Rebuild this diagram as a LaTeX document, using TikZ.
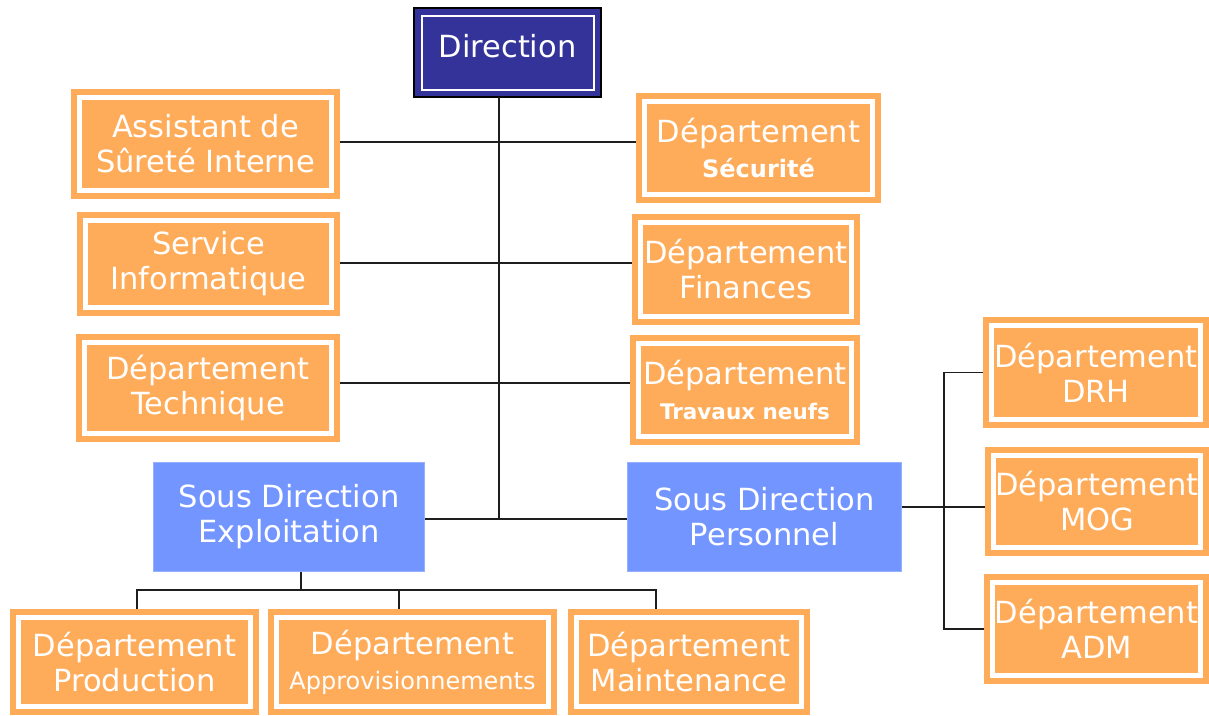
\documentclass[tikz,border=0pt]{standalone}
\usepackage{fontspec}
\setmainfont{DejaVu Sans}
\usetikzlibrary{calc}
\definecolor{orng}{RGB}{255,172,90}
\definecolor{lblue}{RGB}{115,149,255}
\definecolor{navy}{RGB}{51,51,153}
\definecolor{conncol}{RGB}{30,30,30}
\newcommand\mainsz{\fontsize{30.5}{35}\selectfont}
\newcommand\subbf{\fontsize{24}{28}\selectfont\bfseries}
\newcommand\subtr{\fontsize{21.5}{26}\selectfont\bfseries}
\newcommand\subap{\fontsize{24}{28}\selectfont}
\tikzset{
  obox/.style 2 args={draw=orng, fill=orng, double=white, double distance=5pt,
    line width=6pt, minimum width=#1pt-17pt, minimum height=#2pt-17pt,
    outer sep=8.5pt, inner sep=0pt, align=center, text=white, font=\mainsz},
  sbox/.style 2 args={draw=lblue!75!white, fill=lblue, line width=1pt,
    minimum width=#1pt-1pt, minimum height=#2pt-1pt, outer sep=0.5pt,
    inner sep=0pt, align=center, text=white, font=\mainsz},
  dbox/.style 2 args={draw=navy, fill=navy, double=white, double distance=2pt,
    line width=6.5pt, minimum width=#1pt-15pt, minimum height=#2pt-15pt,
    outer sep=7.5pt, inner sep=0pt, align=center, text=white, font=\mainsz,
    text height=22pt, text depth=12pt},
  conn/.style={draw=conncol, line width=1.6pt},
}
\begin{document}
\begin{tikzpicture}[x=1pt,y=-1pt]
\useasboundingbox[fill=white] (0,0) rectangle (1209,715);
% top
\node[dbox={187}{89}] (dir) at (507.5,52.5) {Direction};
\draw[black, line width=2pt] (dir.north west) rectangle (dir.south east);
% left column
\node[obox={269}{110}] (asst) at (205.5,144) {Assistant de\\Sûreté Interne};
\node[obox={263}{104}] (info) at (208.5,264) {Service\\Informatique};
\node[obox={264}{108}] (tech) at (208,388) {Département\\Technique};
% right column
\node[obox={245}{110}] (secu) at (758.5,148) {Département\\{\subbf Sécurité}};
\node[obox={228}{111}] (fin) at (746,269.5) {Département\\Finances};
\node[obox={230}{110}] (trav) at (745,390) {Département\\{\subtr Travaux neufs}};
% sous directions
\node[sbox={272}{110}] (sde) at (289,517) {Sous Direction\\Exploitation};
\node[sbox={275}{110}] (sdp) at (764.5,517) {Sous Direction\\Personnel};
% far right
\node[obox={226}{111}] (drh) at (1096,372.5) {Département\\DRH};
\node[obox={224}{109}] (mog) at (1097,501.5) {Département\\MOG};
\node[obox={225}{110}] (adm) at (1096.5,629) {Département\\ADM};
% bottom
\node[obox={249}{106}] (prod) at (134.5,662) {Département\\Production};
\node[obox={289}{106}] (appro) at (412.5,662) {Département\\{\subap Approvisionnements}};
\node[obox={242}{106}] (maint) at (689,662) {Département\\Maintenance};
% connector points
\coordinate (j) at (499,519);
\coordinate (r1) at (499,142);
\coordinate (r2) at (499,263);
\coordinate (r3) at (499,383);
\coordinate (k) at (944,507);
\coordinate (b) at (301,590);
\coordinate (bp) at (137,590);
\coordinate (ba) at (399,590);
\coordinate (bm) at (656,590);
% connectors
\draw[conn] (dir.south -| j) -- (j);
\draw[conn] (asst.east |- r1) -- (secu.west |- r1);
\draw[conn] (info.east |- r2) -- (fin.west |- r2);
\draw[conn] (tech.east |- r3) -- (trav.west |- r3);
\draw[conn] (sde.east |- j) -- (sdp.west |- j);
\draw[conn] (sdp.east |- k) -- (k);
\draw[conn] (drh.west) -| (k |- adm.west) -- (adm.west);
\draw[conn] (k) -- (mog.west |- k);
\draw[conn] (sde.south -| b) -- (b);
\draw[conn] (prod.north -| bp) -- (bp) -- (bm) -- (maint.north -| bm);
\draw[conn] (ba) -- (appro.north -| ba);
\end{tikzpicture}
\end{document}
